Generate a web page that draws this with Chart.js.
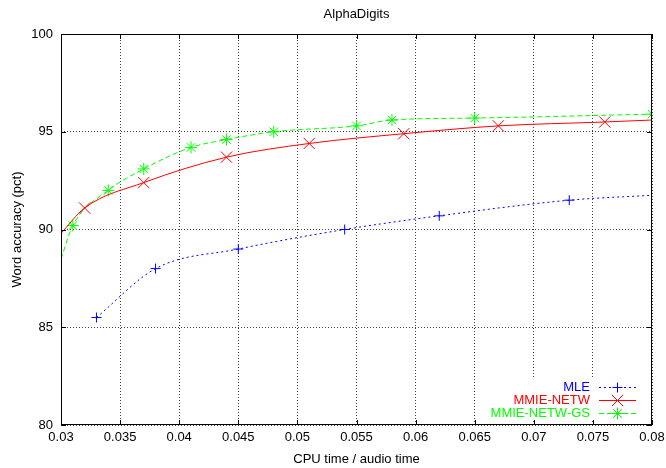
<!DOCTYPE html>
<html>
<head>
<meta charset="utf-8">
<script src="https://cdn.jsdelivr.net/npm/chart.js@4/dist/chart.umd.min.js"></script>
<style>
  html, body { margin: 0; padding: 0; background: #fff; }
  #wrap { width: 666px; height: 468px; }
</style>
</head>
<body>
<div id="wrap"><canvas id="chart" width="666" height="468"></canvas></div>
<script>
// values
const xTicks = [0.03, 0.035, 0.04, 0.045, 0.05, 0.055, 0.06, 0.065, 0.07, 0.075, 0.08];
const xTickLabels = ['0.03', '0.035', '0.04', '0.045', '0.05', '0.055', '0.06', '0.065', '0.07', '0.075', '0.08'];
const yTicks = [80, 85, 90, 95, 100];
const yTickLabels = ['80', '85', '90', '95', '100'];

const seriesNames = ['MLE', 'MMIE-NETW', 'MMIE-NETW-GS'];

const mleX = [0.033, 0.038, 0.045, 0.054, 0.062, 0.073];
const mleY = [85.5, 88.0, 89.0, 90.0, 90.7, 91.5];
const netwX = [0.032, 0.037, 0.044, 0.051, 0.059, 0.067, 0.076];
const netwY = [91.1, 92.4, 93.7, 94.4, 94.9, 95.3, 95.5];
const gsX = [0.031, 0.034, 0.037, 0.041, 0.044, 0.048, 0.055, 0.058, 0.065, 0.080];
const gsY = [90.2, 92.0, 93.1, 94.2, 94.6, 95.0, 95.3, 95.6, 95.7, 95.9];

// where the fitted curves run past the first / last marker
const mleCurveX = [0.033, 0.038, 0.045, 0.054, 0.062, 0.073, 0.08];
const mleCurveY = [85.5, 88.0, 89.0, 90.0, 90.7, 91.5, 91.75];
const netwCurveX = [0.03, 0.032, 0.037, 0.044, 0.051, 0.059, 0.067, 0.076, 0.08];
const netwCurveY = [89.8, 91.1, 92.4, 93.7, 94.4, 94.9, 95.3, 95.5, 95.6];
const gsCurveX = [0.03, 0.031, 0.034, 0.037, 0.041, 0.044, 0.048, 0.055, 0.058, 0.065, 0.080];
const gsCurveY = [88.5, 90.2, 92.0, 93.1, 94.2, 94.6, 95.0, 95.3, 95.6, 95.7, 95.9];

const pts = (xs, ys) => xs.map((x, i) => ({ x: x, y: ys[i] }));

const FONT = '"Liberation Sans", Arial, Helvetica, sans-serif';
const colors = ['#0000ff', '#ff0000', '#00ff00'];
const dashes = [[2, 3], [], [5, 3]];
const markers = [
    { style: 'cross', radius: 5 },
    { style: 'crossRot', radius: 8 },
    { style: 'star', radius: 6 }
];

Chart.defaults.color = '#000';
Chart.defaults.font.family = FONT;
Chart.defaults.font.size = 13;

function drawMarker(ctx, style, r, x, y) {
    ctx.beginPath();
    if (style === 'cross' || style === 'star') {
        ctx.moveTo(x - r, y); ctx.lineTo(x + r, y);
        ctx.moveTo(x, y - r); ctx.lineTo(x, y + r);
    }
    if (style === 'crossRot' || style === 'star') {
        const d = r * Math.SQRT1_2;
        ctx.moveTo(x - d, y - d); ctx.lineTo(x + d, y + d);
        ctx.moveTo(x - d, y + d); ctx.lineTo(x + d, y - d);
    }
    ctx.stroke();
}

const gnuplotLook = {
    id: 'gnuplotLook',
    beforeDatasetsDraw(chart) {
        // key box hides the grid behind it
        const ctx = chart.ctx, a = chart.chartArea;
        ctx.save();
        ctx.fillStyle = '#fff';
        ctx.fillRect(a.right - 164, a.bottom - 48, 160, 42);
        ctx.restore();
    },
    afterDraw(chart) {
        const ctx = chart.ctx, a = chart.chartArea;
        const xs = chart.scales.x, ys = chart.scales.y;
        ctx.save();
        // frame
        ctx.strokeStyle = '#000';
        ctx.lineWidth = 1;
        ctx.setLineDash([]);
        ctx.strokeRect(Math.round(a.left) + 0.5, Math.round(a.top) + 0.5,
            Math.round(a.right - a.left) - 1, Math.round(a.bottom - a.top) - 1);
        // inward ticks on all four sides
        ctx.beginPath();
        xTicks.forEach(v => {
            const px = Math.round(xs.getPixelForValue(v)) + 0.5;
            ctx.moveTo(px, a.bottom); ctx.lineTo(px, a.bottom - 5);
            ctx.moveTo(px, a.top); ctx.lineTo(px, a.top + 5);
        });
        yTicks.forEach(v => {
            const py = Math.round(ys.getPixelForValue(v)) + 0.5;
            ctx.moveTo(a.left, py); ctx.lineTo(a.left + 5, py);
            ctx.moveTo(a.right, py); ctx.lineTo(a.right - 5, py);
        });
        ctx.stroke();

        // title
        ctx.font = '13px ' + FONT;
        ctx.fillStyle = '#000';
        ctx.textAlign = 'center';
        ctx.textBaseline = 'middle';
        ctx.fillText('AlphaDigits', (a.left + a.right) / 2, 14);

        // key
        const textRight = a.right - 62;
        const sx1 = a.right - 53, sx2 = a.right - 16;
        ctx.textAlign = 'right';
        seriesNames.forEach((name, i) => {
            const y = a.bottom - 38 + i * 13;
            ctx.fillStyle = colors[i];
            ctx.fillText(name, textRight, y);
            ctx.strokeStyle = colors[i];
            ctx.lineWidth = 1;
            ctx.setLineDash(dashes[i]);
            ctx.beginPath();
            ctx.moveTo(sx1, y + 0.5); ctx.lineTo(sx2, y + 0.5);
            ctx.stroke();
            ctx.setLineDash([]);
            drawMarker(ctx, markers[i].style, markers[i].radius, (sx1 + sx2) / 2, y + 0.5);
        });
        ctx.restore();
    }
};

const curves = [pts(mleCurveX, mleCurveY), pts(netwCurveX, netwCurveY), pts(gsCurveX, gsCurveY)];
const marks = [pts(mleX, mleY), pts(netwX, netwY), pts(gsX, gsY)];

const datasets = [];
seriesNames.forEach((name, i) => {
    datasets.push({
        label: name,
        data: curves[i],
        showLine: true,
        borderColor: colors[i],
        borderWidth: 1,
        borderDash: dashes[i],
        pointRadius: 0,
        cubicInterpolationMode: 'monotone',
        fill: false
    });
    datasets.push({
        label: name + ' points',
        data: marks[i],
        showLine: false,
        pointStyle: markers[i].style,
        pointRadius: markers[i].radius,
        pointBorderColor: colors[i],
        pointBackgroundColor: colors[i],
        pointBorderWidth: 1
    });
});

new Chart(document.getElementById('chart'), {
    type: 'scatter',
    data: { datasets: datasets },
    options: {
        responsive: false,
        animation: false,
        layout: { padding: { top: 34, right: 14, left: 0, bottom: 0 } },
        plugins: { legend: { display: false }, tooltip: { enabled: false }, title: { display: false } },
        scales: {
            x: {
                type: 'linear',
                min: 0.03,
                max: 0.08,
                afterFit: s => { s.height = 43; s.paddingLeft = 0; s.paddingRight = 0; },
                afterBuildTicks: s => { s.ticks = xTicks.map(v => ({ value: v })); },
                ticks: { padding: 5, maxRotation: 0, autoSkip: false, callback: (v, i) => xTickLabels[i] },
                grid: { color: 'rgba(0,0,0,0.75)', drawTicks: false, lineWidth: 1 },
                border: { display: false, dash: [1, 2] },
                title: { display: true, text: 'CPU time / audio time', padding: { top: 0, bottom: 1 } }
            },
            y: {
                type: 'linear',
                min: 80,
                max: 100,
                afterFit: s => { s.width = 61; s.paddingTop = 0; s.paddingBottom = 0; },
                afterBuildTicks: s => { s.ticks = yTicks.map(v => ({ value: v })); },
                ticks: { padding: 8, autoSkip: false, callback: (v, i) => yTickLabels[i] },
                grid: { color: 'rgba(0,0,0,0.75)', drawTicks: false, lineWidth: 1 },
                border: { display: false, dash: [1, 2] },
                title: { display: true, text: 'Word accuracy (pct)', padding: { top: 10, bottom: 0 } }
            }
        }
    },
    plugins: [gnuplotLook]
});
</script>
</body>
</html>
